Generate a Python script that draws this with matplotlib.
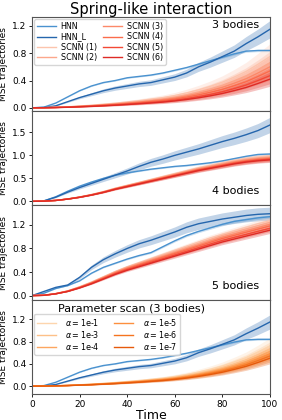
import numpy as np
import matplotlib
matplotlib.use("Agg")
import matplotlib.pyplot as plt

# ── data (time step 5) ──
TIME = list(range(0, 101, 5))

# 3 bodies (also reused for the parameter scan panel)
HNN_3 = [0, .01, .07, .16, .25, .32, .37, .40, .44, .46, .48, .51, .55, .59, .64, .69, .74, .79, .83, .84, .84]
HNN_L_3 = [0, .005, .03, .09, .15, .20, .25, .29, .32, .35, .37, .41, .45, .51, .60, .67, .75, .83, .94, 1.04, 1.15]
SCNN_3 = [
    [0, .002, .008, .015, .026, .038, .053, .068, .086, .105, .128, .15, .18, .218, .263, .315, .375, .45, .533, .638, .75],
    [0, .002, .007, .013, .023, .033, .046, .059, .076, .092, .112, .132, .158, .191, .231, .277, .33, .396, .469, .561, .66],
    [0, .002, .006, .012, .021, .03, .042, .054, .069, .084, .102, .12, .144, .174, .21, .252, .30, .36, .426, .51, .60],
    [0, .002, .005, .011, .019, .027, .038, .049, .062, .076, .092, .108, .13, .157, .189, .227, .27, .324, .383, .459, .54],
    [0, .001, .005, .009, .016, .024, .033, .042, .054, .066, .08, .094, .113, .136, .165, .197, .235, .282, .334, .40, .47],
    [0, .001, .004, .008, .015, .021, .029, .038, .048, .059, .071, .084, .101, .122, .147, .176, .21, .252, .298, .357, .42],
]

# 4 bodies
HNN_4 = [0, .01, .10, .22, .33, .42, .50, .57, .62, .66, .70, .73, .76, .78, .81, .84, .88, .93, .98, 1.02, 1.03]
HNN_L_4 = [0, .01, .09, .20, .30, .39, .48, .57, .66, .76, .85, .92, 1.00, 1.07, 1.14, 1.22, 1.30, 1.37, 1.45, 1.54, 1.66]
SCNN_4 = [
    [0, .005, .021, .053, .095, .148, .212, .286, .35, .413, .477, .541, .604, .668, .731, .784, .837, .89, .933, .965, .986],
    [0, .005, .021, .052, .094, .146, .208, .281, .343, .406, .468, .53, .593, .655, .718, .77, .822, .874, .915, .946, .967],
    [0, .005, .02, .051, .092, .143, .204, .275, .337, .398, .459, .52, .581, .643, .704, .755, .806, .857, .898, .928, .949],
    [0, .005, .02, .05, .09, .14, .20, .27, .33, .39, .45, .51, .57, .63, .69, .74, .79, .84, .88, .91, .93],
    [0, .005, .02, .049, .089, .138, .197, .266, .325, .384, .443, .502, .561, .621, .68, .729, .778, .827, .867, .896, .916],
    [0, .005, .019, .049, .087, .136, .194, .262, .32, .378, .437, .495, .553, .611, .669, .718, .766, .815, .854, .883, .902],
]

# 5 bodies
HNN_5 = [0, .04, .12, .17, .25, .38, .48, .55, .62, .68, .73, .83, .93, 1.02, 1.09, 1.15, 1.21, 1.26, 1.29, 1.32, 1.34]
HNN_L_5 = [0, .07, .14, .18, .31, .48, .61, .71, .80, .88, .94, 1.01, 1.08, 1.16, 1.22, 1.26, 1.30, 1.33, 1.36, 1.38, 1.39]
SCNN_5 = [
    [0, .006, .035, .08, .15, .23, .32, .41, .49, .56, .63, .70, .77, .84, .91, .98, 1.04, 1.10, 1.16, 1.22, 1.27],
    [0, .006, .034, .078, .146, .224, .314, .403, .482, .549, .616, .683, .75, .818, .885, .952, 1.019, 1.075, 1.131, 1.187, 1.243],
    [0, .005, .033, .076, .142, .218, .305, .392, .469, .534, .60, .665, .73, .796, .861, .927, .992, 1.046, 1.101, 1.155, 1.21],
    [0, .005, .032, .075, .138, .213, .298, .383, .458, .522, .586, .65, .714, .777, .841, .905, .969, 1.022, 1.076, 1.129, 1.182],
    [0, .005, .031, .072, .134, .206, .288, .371, .443, .505, .567, .628, .69, .752, .814, .876, .937, .989, 1.04, 1.092, 1.143],
    [0, .005, .03, .07, .13, .20, .28, .36, .43, .49, .55, .61, .67, .73, .79, .85, .91, .96, 1.01, 1.06, 1.11],
]

# parameter scan (3 bodies)
ALPHAS = ["1e-1", "1e-3", "1e-4", "1e-5", "1e-6", "1e-7"]
SCAN_3 = [
    [0, .002, .007, .014, .025, .036, .05, .065, .083, .101, .122, .144, .173, .209, .252, .302, .36, .432, .511, .612, .72],
    [0, .002, .007, .013, .023, .033, .046, .059, .076, .092, .112, .132, .158, .191, .231, .277, .33, .396, .469, .561, .66],
    [0, .002, .006, .012, .022, .031, .043, .056, .071, .087, .105, .124, .149, .18, .217, .26, .31, .372, .44, .527, .62],
    [0, .002, .006, .012, .02, .029, .041, .052, .067, .081, .099, .116, .139, .168, .203, .244, .29, .348, .412, .493, .58],
    [0, .002, .005, .011, .019, .027, .038, .049, .062, .076, .092, .108, .13, .157, .189, .227, .27, .324, .383, .459, .54],
    [0, .002, .005, .01, .018, .025, .035, .045, .058, .07, .085, .10, .12, .145, .175, .21, .25, .30, .355, .425, .50],
]

# relative spread of the shaded bands (hnn, hnn_l, scnn)
SPREAD_3 = (0.02, 0.11, 0.25)
SPREAD_4 = (0.02, 0.10, 0.06)
SPREAD_5 = (0.02, 0.08, 0.05)
SPREAD_SCAN = (0.02, 0.11, 0.20)

C_HNN = "#4a92cf"
C_HNN_L = "#2566ad"
REDS = plt.cm.Reds(np.linspace(0.22, 0.68, 6))
ORANGES = plt.cm.Oranges(np.linspace(0.22, 0.68, 6))

FS = 6.5

plt.rcParams["font.family"] = "DejaVu Sans"


def band(ax, t, y, rel, color, lw=1.0, label=None):
    y = np.asarray(y)
    ax.fill_between(t, y * (1 - rel), y * (1 + rel), color=color,
                    alpha=0.28, linewidth=0)
    ax.plot(t, y, color=color, lw=lw, label=label)


def panel(ax, hnn, hnn_l, curves, spread, colors, labels):
    t = np.asarray(TIME)
    band(ax, t, hnn, spread[0], C_HNN, label="HNN")
    band(ax, t, hnn_l, spread[1], C_HNN_L, label="HNN_L")
    for y, c, lab in zip(curves, colors, labels):
        band(ax, t, y, spread[2], c, label=lab)
    ax.set_xlim(0, 100)
    ax.set_ylabel("MSE trajectories", fontsize=FS)
    ax.yaxis.set_label_coords(-0.1, 0.5)
    ax.tick_params(labelsize=FS, length=2.5, width=0.6, pad=1.5)
    for s in ax.spines.values():
        s.set_color("#555555")
        s.set_linewidth(0.8)


fig, axes = plt.subplots(4, 1, figsize=(2.82, 4.2), dpi=100, sharex=True)
fig.subplots_adjust(left=0.1135, right=0.957, top=0.9595, bottom=0.062,
                    hspace=0)

scnn_labels = [f"SCNN ({i})" for i in range(1, 7)]

ax = axes[0]
panel(ax, HNN_3, HNN_L_3, SCNN_3, SPREAD_3, REDS, scnn_labels)
ax.set_ylim(-0.05, 1.33)
ax.set_yticks([0, 0.4, 0.8, 1.2])
ax.legend(loc="upper left", ncol=2, fontsize=5.8, labelspacing=0.15,
          handlelength=2.3, columnspacing=0.8, borderpad=0.35,
          handletextpad=0.6, borderaxespad=0.3)
ax.text(0.955, 0.97, "3 bodies", transform=ax.transAxes, ha="right",
        va="top", fontsize=8)
ax.set_title("Spring-like interaction", fontsize=10.5, pad=2)

ax = axes[1]
panel(ax, HNN_4, HNN_L_4, SCNN_4, SPREAD_4, REDS, scnn_labels)
ax.set_ylim(-0.09, 1.96)
ax.set_yticks([0, 0.5, 1.0, 1.5])
ax.text(0.955, 0.1, "4 bodies", transform=ax.transAxes, ha="right",
        va="bottom", fontsize=8)

ax = axes[2]
panel(ax, HNN_5, HNN_L_5, SCNN_5, SPREAD_5, REDS, scnn_labels)
ax.set_ylim(-0.07, 1.53)
ax.set_yticks([0, 0.4, 0.8, 1.2])
ax.text(0.955, 0.09, "5 bodies", transform=ax.transAxes, ha="right",
        va="bottom", fontsize=8)

ax = axes[3]
alpha_labels = [r"$\alpha = $" + a for a in ALPHAS]
panel(ax, HNN_3, HNN_L_3, SCAN_3, SPREAD_SCAN, ORANGES, alpha_labels)
ax.set_ylim(-0.14, 1.55)
ax.set_yticks([0, 0.4, 0.8, 1.2])
handles, labs = ax.get_legend_handles_labels()
ax.legend(handles[2:], labs[2:], loc="upper left",
          bbox_to_anchor=(0.01, 0.85), ncol=2, fontsize=5.8,
          labelspacing=0.15, handlelength=2.3, columnspacing=1.8,
          borderpad=0.35, handletextpad=1.2, borderaxespad=0.0)
ax.text(0.42, 0.96, "Parameter scan (3 bodies)", transform=ax.transAxes,
        ha="center", va="top", fontsize=8)
ax.set_xticks([0, 20, 40, 60, 80, 100])
ax.set_xlabel("Time", fontsize=9, labelpad=0)

fig.savefig("out.png", dpi=100)
